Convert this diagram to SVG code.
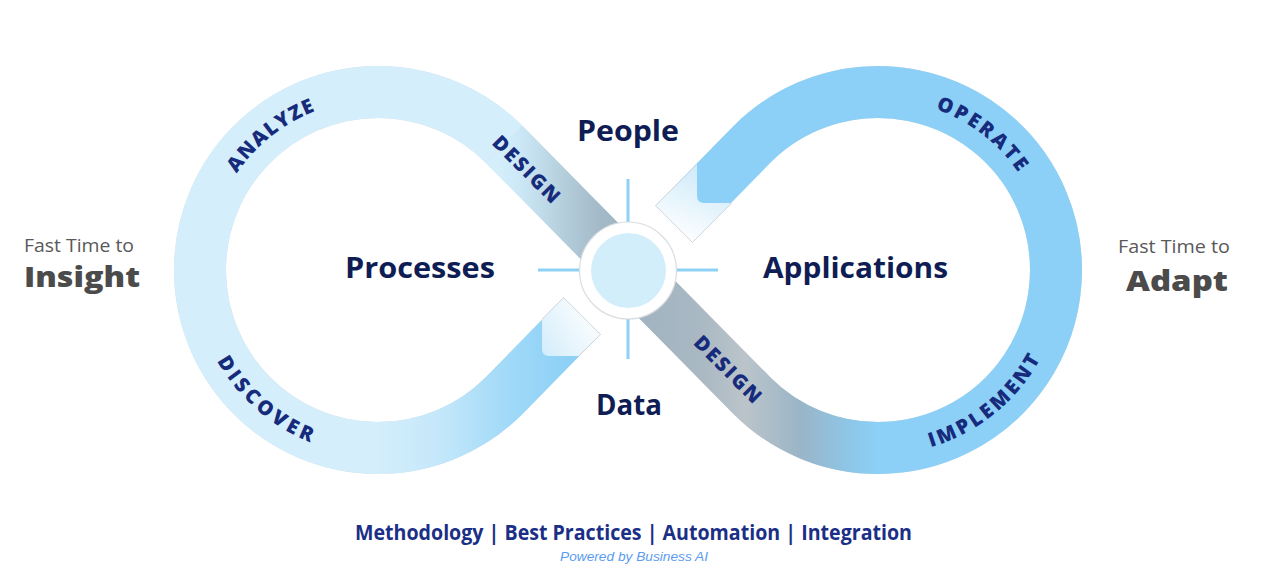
<svg xmlns="http://www.w3.org/2000/svg" width="1272" height="582" viewBox="0 0 1272 582">
<defs>
<style>
.band{fill:none;stroke-width:52;stroke-linecap:butt;stroke-linejoin:round}
.hd{font-family:"Open Sans","Noto Sans",sans-serif;font-weight:700;font-size:29px;fill:#0F1D55;text-anchor:middle}
.lbl{font-family:"Open Sans","Noto Sans",sans-serif;font-weight:800;font-size:20px;fill:#172B7C;letter-spacing:2px}
.sm{font-family:"Open Sans","Noto Sans",sans-serif;font-size:18px;fill:#595959}
.big{font-family:"Open Sans","Noto Sans",sans-serif;font-weight:800;font-size:28px;fill:#4B4B4B}
.cross{stroke:#8FD1F4;stroke-width:3}
.edge{fill:none;stroke:#D3D7DB;stroke-width:1}
</style>
<linearGradient id="gMid" gradientUnits="userSpaceOnUse" x1="878" y1="0" x2="500" y2="0">
<stop offset="0" stop-color="#8CD0F7"/>
<stop offset="0.074" stop-color="#8DC6E8"/>
<stop offset="0.206" stop-color="#9AB5C7"/>
<stop offset="0.352" stop-color="#BBC4CA"/>
<stop offset="0.471" stop-color="#A9B8C3"/>
<stop offset="0.63" stop-color="#A1B4C1"/>
<stop offset="0.735" stop-color="#A3B9C8"/>
<stop offset="0.841" stop-color="#B6D0DE"/>
<stop offset="0.947" stop-color="#CCE8F6"/>
<stop offset="1" stop-color="#D4EEFB"/>
</linearGradient>
<linearGradient id="gLow" gradientUnits="userSpaceOnUse" x1="378" y1="0" x2="565" y2="0">
<stop offset="0" stop-color="#D4EEFB"/>
<stop offset="0.35" stop-color="#C3E7FA"/>
<stop offset="0.7" stop-color="#A0D9F8"/>
<stop offset="1" stop-color="#8ED1F7"/>
</linearGradient>
<linearGradient id="gTipL" gradientUnits="userSpaceOnUse" x1="598" y1="312" x2="542" y2="345">
<stop offset="0" stop-color="#FFFFFF"/>
<stop offset="1" stop-color="#D6EEFB"/>
</linearGradient>
<linearGradient id="gTipR" gradientUnits="userSpaceOnUse" x1="668" y1="236" x2="697" y2="172">
<stop offset="0" stop-color="#FFFFFF"/>
<stop offset="1" stop-color="#D2ECFA"/>
</linearGradient>
<path id="pAnalyze" d="M 207.08 264.93 A 171 171 0 0 1 412.68 102.55"/>
<path id="pDiscover" d="M 193.01 267.74 A 185 185 0 0 0 407.90 452.57"/>
<path id="pOperate" d="M 841.57 102.92 A 171 171 0 0 1 1048.86 263.14"/>
<path id="pImplement" d="M 843.33 451.72 A 185 185 0 0 0 1062.98 272.58"/>
</defs>
<rect width="1272" height="582" fill="#FFFFFF"/>

<g id="connectors">
<path class="band" stroke="#D6DEE4" stroke-width="54" d="M 674 224 L 752.13 144.13 A 178 178 0 1 1 752.13 395.87 L 503.87 144.13 A 178 178 0 1 0 503.87 395.87 L 582 316"/>
<path class="band" stroke="#8CD0F7" d="M 674 224 L 752.13 144.13 A 178 178 0 1 1 878 448"/>
<path class="band" stroke="url(#gMid)" d="M 881.11 447.97 A 178 178 0 0 1 752.13 395.87 L 503.87 144.13"/>
<path class="band" stroke="#D4EEFB" d="M 503.87 144.13 A 178 178 0 1 0 378 448"/>
<path class="band" stroke="url(#gLow)" d="M 374.89 447.97 A 178 178 0 0 0 503.87 395.87 L 582 316"/>
<path fill="url(#gTipL)" d="M 563.6 297.6 L 542 319.2 L 542 349 Q 542 356 549 356 L 578.8 356 L 600.4 334.4 Z"/>
<polyline class="edge" points="542,319.2 563.6,297.6 600.4,334.4 578.8,356"/>
<path fill="url(#gTipR)" d="M 655.6 205.6 L 697 164.2 L 697 196 Q 697 203 704 203 L 731.8 203 L 692.4 242.4 Z"/>
<polyline class="edge" points="697,164.2 655.6,205.6 692.4,242.4 731.8,203"/>
<line class="cross" x1="628" y1="179" x2="628" y2="224"/>
<line class="cross" x1="628" y1="317" x2="628" y2="359"/>
<line class="cross" x1="538" y1="270" x2="581" y2="270"/>
<line class="cross" x1="675" y1="270" x2="718" y2="270"/>
</g>

<g id="hub">
<circle cx="628" cy="270.5" r="48.5" fill="#FFFFFF" stroke="#DADDE0" stroke-width="1.2"/>
<circle cx="628.5" cy="270.5" r="37.5" fill="#D3EEFB"/>
</g>

<g id="loop-labels">
<text class="lbl"><textPath href="#pAnalyze" startOffset="50%" text-anchor="middle" textLength="104">ANALYZE</textPath></text>
<text class="lbl"><textPath href="#pDiscover" startOffset="50%" text-anchor="middle" textLength="128">DISCOVER</textPath></text>
<text class="lbl"><textPath href="#pOperate" startOffset="50%" text-anchor="middle" textLength="108">OPERATE</textPath></text>
<text class="lbl"><textPath href="#pImplement" startOffset="50%" text-anchor="middle" textLength="146">IMPLEMENT</textPath></text>
<text class="lbl" text-anchor="middle" transform="translate(527,170) rotate(45)" y="7" textLength="88">DESIGN</text>
<text class="lbl" text-anchor="middle" transform="translate(728.5,370) rotate(45)" y="7" textLength="88">DESIGN</text>
</g>

<g id="node-people"><text class="hd" x="628" y="141" textLength="102" lengthAdjust="spacingAndGlyphs">People</text></g>
<g id="node-processes"><text class="hd" x="420" y="278" textLength="150" lengthAdjust="spacingAndGlyphs">Processes</text></g>
<g id="node-applications"><text class="hd" x="855.5" y="278" textLength="185" lengthAdjust="spacingAndGlyphs">Applications</text></g>
<g id="node-data"><text class="hd" x="629" y="415" textLength="66" lengthAdjust="spacingAndGlyphs">Data</text></g>

<g id="insight">
<text class="sm" x="24" y="252" textLength="110" lengthAdjust="spacingAndGlyphs">Fast Time to</text>
<text class="big" x="24" y="287" textLength="116" lengthAdjust="spacingAndGlyphs">Insight</text>
</g>
<g id="adapt">
<text class="sm" x="1118" y="253" textLength="112" lengthAdjust="spacingAndGlyphs">Fast Time to</text>
<text class="big" x="1126" y="291" textLength="102" lengthAdjust="spacingAndGlyphs">Adapt</text>
</g>

<g id="footer">
<text x="633.5" y="540" text-anchor="middle" font-family="Open Sans, Noto Sans, sans-serif" font-weight="700" font-size="21" fill="#1B2F86" textLength="557" lengthAdjust="spacingAndGlyphs">Methodology | Best Practices | Automation | Integration</text>
<text x="634" y="561" text-anchor="middle" font-family="Liberation Sans, Arial, sans-serif" font-style="italic" font-size="13.5" fill="#5B9CF0" textLength="148" lengthAdjust="spacingAndGlyphs">Powered by Business AI</text>
</g>
</svg>
